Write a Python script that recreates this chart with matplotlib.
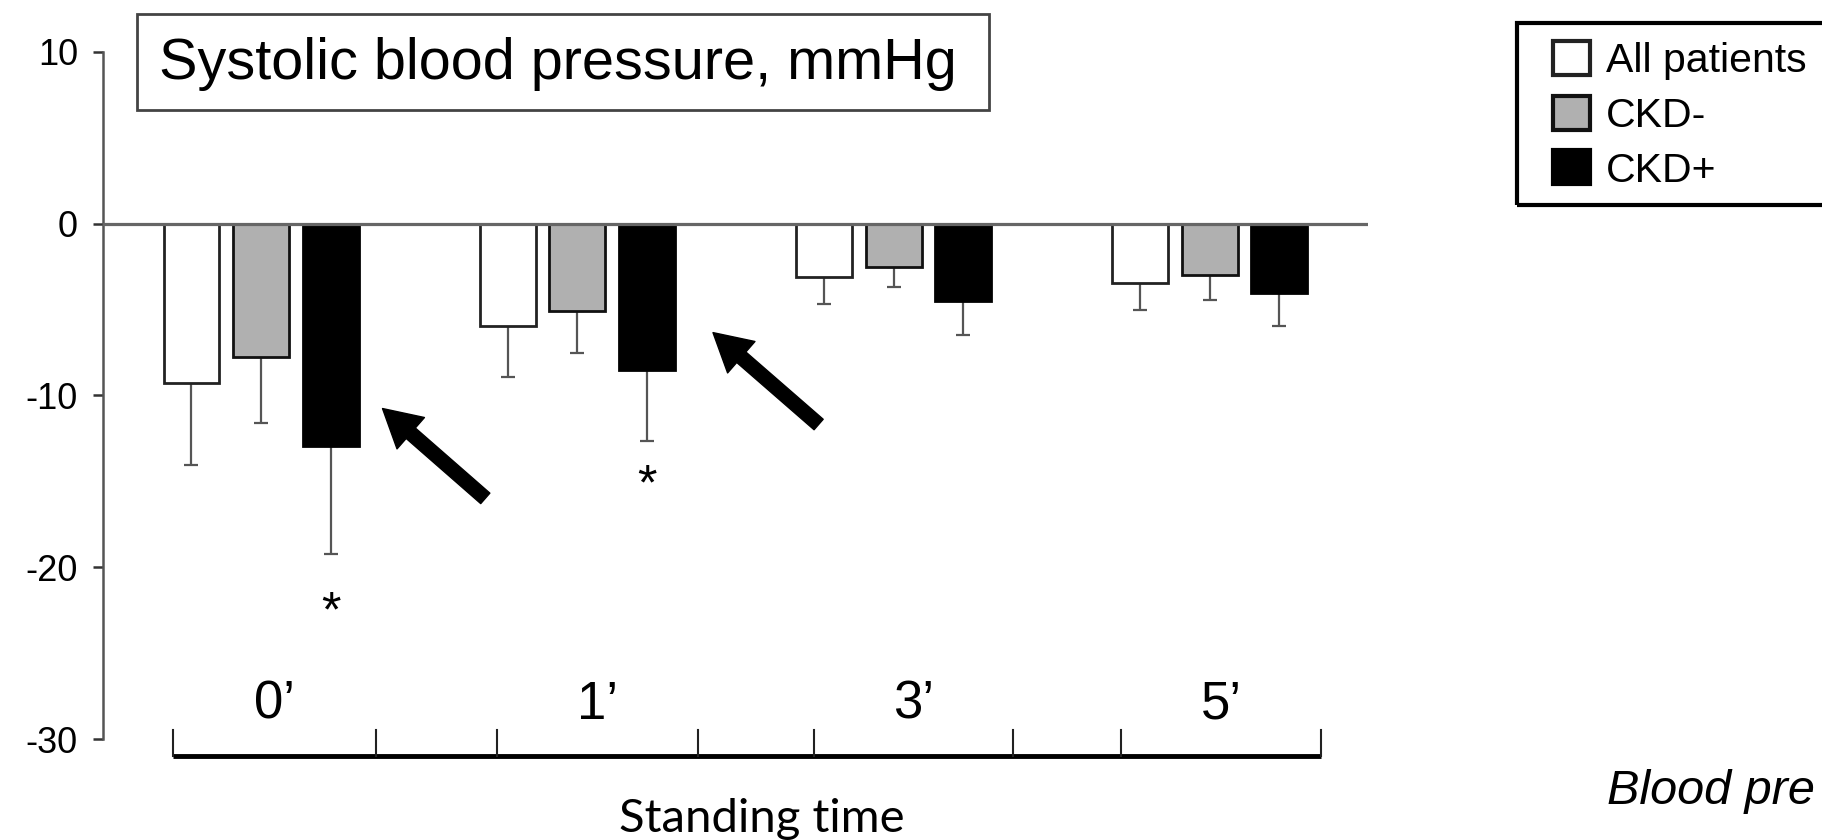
import matplotlib.pyplot as plt
import matplotlib.patches as mpatches
import numpy as np

# data (change in systolic BP, mmHg)
groups = ["0\u2019", "1\u2019", "3\u2019", "5\u2019"]
series = ["All patients", "CKD-", "CKD+"]
all_mean = [-9.3, -5.95, -3.1, -3.45]
all_err = [4.75, 2.95, 1.6, 1.55]
neg_mean = [-7.75, -5.1, -2.5, -3.0]
neg_err = [3.85, 2.45, 1.2, 1.42]
pos_mean = [-12.95, -8.5, -4.5, -4.05]
pos_err = [6.25, 4.15, 2.0, 1.88]
star_group = [0, 1]
star_y = [-22.7, -15.3]
yticks = [10, 0, -10, -20, -30]

fig = plt.figure(figsize=(18.22, 8.40), dpi=100)
ax = fig.add_axes([0.0565, 0.1202, 0.6943, 0.818])

x = np.arange(len(groups))
width = 0.177
step = 0.22

bar_styles = [("white", "#222222"), ("#b0b0b0", "#111111"), ("black", "black")]
bars = []
for i, (m, e) in enumerate([(all_mean, all_err), (neg_mean, neg_err), (pos_mean, pos_err)]):
    fc, ec = bar_styles[i]
    b = ax.bar(x + (i - 1) * step, m, width, color=fc, edgecolor=ec, linewidth=2,
               yerr=[e, np.zeros(len(e))], label=series[i], zorder=2,
               error_kw=dict(ecolor="#555555", elinewidth=1.6, capsize=5, capthick=1.6, zorder=1))
    bars.append(b)

ax.axhline(0, color="#666666", lw=2.3, zorder=3)

ax.set_xlim(-0.5, 3.5)
ax.set_ylim(-30, 10)
ax.set_yticks(yticks)
ax.set_yticklabels([str(t) for t in yticks], family="Liberation Sans", fontsize=26)
ax.tick_params(axis="y", length=7, width=1.8, color="#333333", pad=11)
ax.set_xticks([])
for s in ["top", "right", "bottom"]:
    ax.spines[s].set_visible(False)
ax.spines["left"].set_color("#555555")
ax.spines["left"].set_linewidth(1.8)
ax.patch.set_alpha(0)

# asterisks
for g, yv in zip(star_group, star_y):
    ax.text(x[g] + step, yv, "*", ha="center", va="center", fontsize=36,
            family="Liberation Sans")

# arrows
arrow_kw = dict(facecolor="black", edgecolor="black", width=10, headwidth=30,
                headlength=27, shrink=0)
ax.annotate("", xy=(0.384, -10.76), xytext=(0.709, -15.99), arrowprops=arrow_kw)
ax.annotate("", xy=(1.429, -6.34), xytext=(1.763, -11.69), arrowprops=arrow_kw)

# category axis below the plot
brackets = [(-0.279, 0.362), (0.747, 1.382), (1.748, 2.379), (2.720, 3.352)]
ax.plot([brackets[0][0], brackets[-1][1]], [-31.0, -31.0], color="black", lw=3.5,
        clip_on=False, solid_capstyle="butt")
for (a, b), lab in zip(brackets, groups):
    for xv in (a, b):
        ax.plot([xv, xv], [-31.0, -29.45], color="#222222", lw=1.5, clip_on=False)
    ax.text((a + b) / 2, -28.0, lab, ha="center", va="center", fontsize=38,
            family="Liberation Sans")

fig.text(762 / 1822, 1 - 819 / 840, "Standing time", ha="center", va="center",
         fontsize=34, family="Lato")

# title box
fig.add_artist(mpatches.Rectangle((137 / 1822, 1 - 110 / 840), 852 / 1822, 96 / 840,
                                  transform=fig.transFigure, fc="white", ec="#444444", lw=2))
fig.text(159 / 1822, 1 - 64 / 840, "Systolic blood pressure, mmHg",
         ha="left", va="center", fontsize=41.5, family="Liberation Sans")

# legend with a frame running off the right edge
fig.add_artist(mpatches.Rectangle((1517 / 1822, 1 - 205 / 840), 320 / 1822, 182 / 840,
                                  transform=fig.transFigure, fill=False, ec="black", lw=3))
leg = ax.legend(handles=bars, loc="upper left", bbox_to_anchor=(1553 / 1822, 1 - 41 / 840),
                bbox_transform=fig.transFigure, prop=dict(family="Liberation Sans", size=29.5),
                frameon=False, borderpad=0, handlelength=0.9, handleheight=0.9,
                handletextpad=0.4, labelspacing=0.38, borderaxespad=0)
for h in leg.legend_handles:
    h.set_linewidth(3)

fig.text(1607 / 1822, 1 - 792 / 840, "Blood pre", ha="left", va="center",
         fontsize=35, style="italic", family="Liberation Sans")

fig.savefig("out.png", dpi=100)
